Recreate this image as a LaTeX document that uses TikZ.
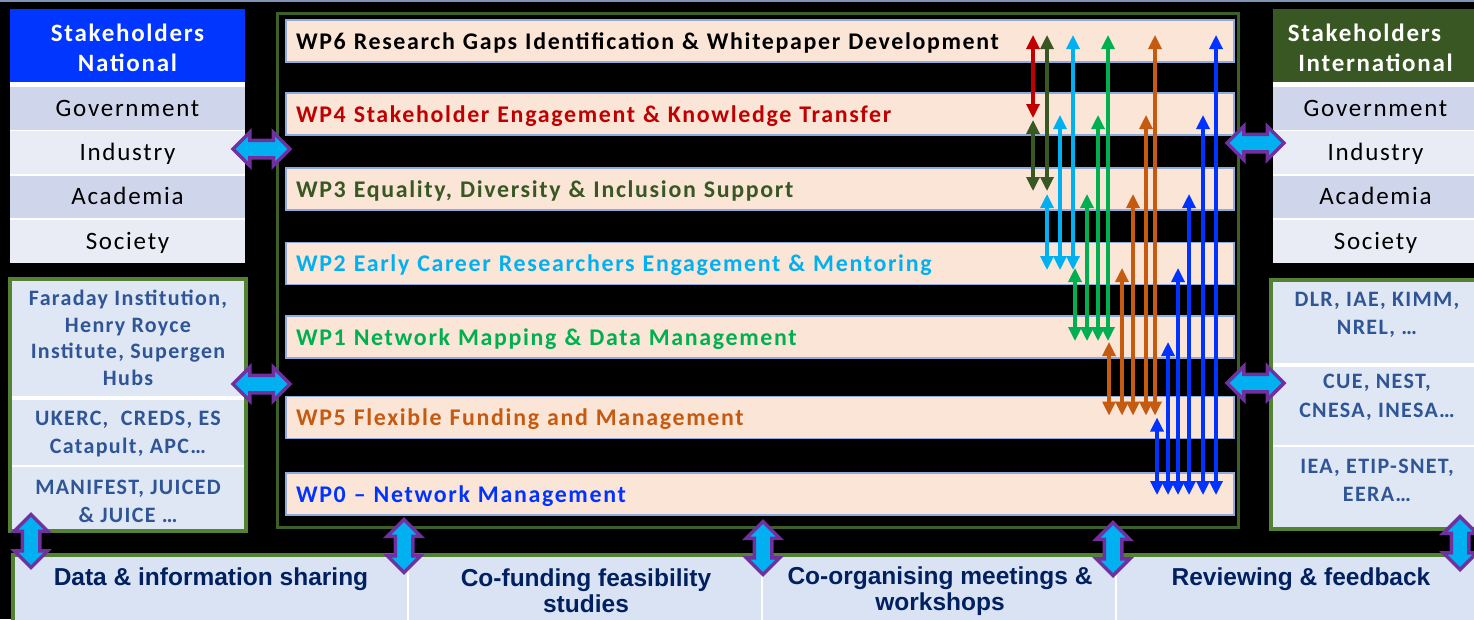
\documentclass[tikz,border=0pt]{standalone}
\usepackage{fontspec}
\setmainfont{Carlito}
\newfontfamily\calsp[LetterSpace=7]{Carlito}
\newfontfamily\calbx[LetterSpace=6]{Carlito}
\newfontfamily\arl{Liberation Sans}
\usetikzlibrary{shapes.arrows,arrows.meta}
\definecolor{natblue}{HTML}{0036FF}
\definecolor{intgreen}{HTML}{385723}
\definecolor{rowdark}{HTML}{CFD5EA}
\definecolor{rowlight}{HTML}{E9EBF5}
\definecolor{boxfill}{HTML}{DEE7F3}
\definecolor{boxgreen}{HTML}{548235}
\definecolor{boxtext}{HTML}{2F5597}
\definecolor{framegreen}{HTML}{3F5F28}
\definecolor{barfill}{HTML}{FBE5D6}
\definecolor{baredge}{HTML}{8FAADC}
\definecolor{bandfill}{HTML}{DAE3F3}
\definecolor{bandtext}{HTML}{002060}
\definecolor{arrpurple}{HTML}{7030A0}
\definecolor{arrcyan}{HTML}{00B0F0}
\definecolor{cred}{HTML}{C00000}
\definecolor{cdkgreen}{HTML}{385723}
\definecolor{ccyan}{HTML}{00B0F0}
\definecolor{cgreen}{HTML}{00B050}
\definecolor{corange}{HTML}{C55A11}
\definecolor{cblue}{HTML}{0033FF}
\definecolor{toplinec}{HTML}{7F93B5}
\newcommand\wplink[4]{\draw[lnk,draw=#1] (#3 -| #2,0) -- (#4 -| #2,0);}
\begin{document}
\begin{tikzpicture}[x=1pt,y=-1pt,
  hdr/.style={anchor=north west, minimum width=235pt, minimum height=73pt, inner sep=0pt, outer sep=0pt},
  hdrtxt/.style={inner sep=0pt, text=white, align=center, font=\calsp\bfseries\fontsize{25}{30}\selectfont},
  tabrow/.style={anchor=north west, minimum width=235pt, minimum height=42.5pt, inner sep=0pt, outer sep=0pt, text height=16pt, text depth=0pt, text=black, font=\calsp\fontsize{25}{30}\selectfont},
  orgbox/.style={anchor=north west, draw=boxgreen, fill=boxfill, line width=4pt, inner sep=0pt, outer sep=0pt},
  orgtxt/.style={text=boxtext, align=center, inner sep=0pt, font=\calbx\bfseries\fontsize{22}{28.5}\selectfont},
  wpframe/.style={anchor=north west, draw=framegreen, line width=3pt, inner sep=0pt, outer sep=0pt},
  wpbar/.style={anchor=north west, draw=baredge, line width=1.3pt, fill=barfill, minimum width=948pt, minimum height=42pt, inner xsep=10pt, inner ysep=0pt, outer sep=0pt, text width=928pt, text height=16pt, text depth=0pt, align=left, font=\calsp\bfseries\fontsize{23.9}{27}\selectfont},
  bandtxt/.style={text=bandtext, align=center, inner sep=0pt, font=\arl\bfseries\fontsize{24.5}{26}\selectfont},
  blk/.style={double arrow, draw=arrpurple, fill=arrcyan, line width=3.5pt, inner xsep=0pt, inner ysep=7pt, outer sep=0pt, double arrow head extend=8pt, double arrow head indent=0pt, minimum height=#1},
  lnk/.style={line width=3.2pt, {Triangle[width=13pt,length=14pt]}-{Triangle[width=13pt,length=14pt]}}
]
\useasboundingbox (0,0) rectangle (1474,619);
\fill[black] (0,0) rectangle (1474,619);
\draw[toplinec, line width=2.5pt] (0,1.2) -- (1474,1.2);

% national stakeholders table
\fill[white] (10,82) rectangle (245,263);
\node[hdr, fill=natblue] (nathdr) at (10,9) {};
\node[hdrtxt] (nathdrtxt) at ([yshift=-2.5pt]nathdr.center) {Stakeholders\\National};
\node[tabrow, fill=rowdark] (natgov) at (10,87) {Government};
\node[tabrow, fill=rowlight] (natind) at (10,131) {Industry};
\node[tabrow, fill=rowdark] (natacad) at (10,175.5) {Academia};
\node[tabrow, fill=rowlight] (natsoc) at (10,220) {Society};

% international stakeholders table
\fill[white] (1273,82) rectangle (1474,263);
\node[hdr, fill=intgreen, minimum width=205pt] (inthdr) at (1273,9) {};
\node[hdrtxt] (inthdrtxt) at ([yshift=-2.5pt]inthdr.center) {Stakeholders\hspace*{22pt}\\International};
\node[tabrow, fill=rowdark, minimum width=205pt] (intgov) at (1273,87) {Government};
\node[tabrow, fill=rowlight, minimum width=205pt] (intind) at (1273,131) {Industry};
\node[tabrow, fill=rowdark, minimum width=205pt] (intacad) at (1273,175.5) {Academia};
\node[tabrow, fill=rowlight, minimum width=205pt] (intsoc) at (1273,220) {Society};

% national organisations
\node[orgbox, minimum width=235.5pt, minimum height=252.5pt] (natorg) at (10,278.5) {};
\draw[white, line width=4pt] (12,398) -- (243.5,398);
\draw[white, line width=2pt] (12,466) -- (243.5,466);
\node[orgtxt, font=\calbx\bfseries\fontsize{22}{26.5}\selectfont] (faraday) at (128,338) {Faraday Institution,\\Henry Royce\\Institute, Supergen\\Hubs};
\node[orgtxt] (ukerc) at (128,434) {UKERC,\ \ CREDS, ES\\Catapult, APC…};
\node[orgtxt] (manifest) at (128,501.5) {MANIFEST, JUICED\\\& JUICE …};

% international organisations
\node[orgbox, minimum width=215pt, minimum height=249pt] (intorg) at (1271,280) {};
\draw[white, line width=4pt] (1273,364.5) -- (1480,364.5);
\draw[white, line width=2pt] (1273,446) -- (1480,446);
\node[orgtxt] (dlr) at (1377,315) {DLR, IAE, KIMM,\\NREL, …};
\node[orgtxt] (cue) at (1377,397.5) {CUE, NEST,\\CNESA, INESA…};
\node[orgtxt] (iea) at (1377,480.5) {IEA, ETIP-SNET,\\EERA…};

% main frame with work packages
\node[wpframe, minimum width=961pt, minimum height=514pt] (wpfr) at (277,13) {};
\node[wpbar, text=black] (wp6) at (286,20) {WP6 Research Gaps Identification \& Whitepaper Development};
\node[wpbar, text=cred] (wp4) at (286,93) {WP4 Stakeholder Engagement \& Knowledge Transfer};
\node[wpbar, text=cdkgreen] (wp3) at (286,168) {WP3 Equality, Diversity \& Inclusion Support};
\node[wpbar, text=ccyan] (wp2) at (286,242.5) {WP2 Early Career Researchers Engagement \& Mentoring};
\node[wpbar, text=cgreen] (wp1) at (286,316) {WP1 Network Mapping \& Data Management};
\node[wpbar, text=corange] (wp5) at (286,396.5) {WP5 Flexible Funding and Management};
\node[wpbar, text=cblue] (wp0) at (286,473) {WP0 – Network Management};

% bottom band
\fill[bandfill] (13,555) rectangle (1480,625);
\draw[boxgreen, line width=3.5pt] (13,625) -- (13,555) -- (1480,555);
\draw[white, line width=1.5pt] (408,557) -- (408,622);
\draw[white, line width=1.5pt] (762,557) -- (762,622);
\draw[white, line width=1.5pt] (1116,557) -- (1116,622);
\node[bandtxt] (share) at (211,579) {Data \& information sharing};
\node[bandtxt] (cofund) at (586,591) {Co-funding feasibility\\studies};
\node[bandtxt] (coorg) at (940,591) {Co-organising meetings \&\\workshops};
\node[bandtxt] (review) at (1301,579) {Reviewing \& feedback};

% block double arrows
\node[blk=57pt] (hA) at (261.5,149) {};
\node[blk=57pt] (hB) at (261.5,384) {};
\node[blk=57pt] (hC) at (1255.5,143) {};
\node[blk=57pt] (hD) at (1255.5,383) {};
\node[blk=53pt, rotate=90] (vA) at (31,541) {};
\node[blk=53pt, rotate=90] (vB) at (404,546) {};
\node[blk=53pt, rotate=90] (vC) at (763,548) {};
\node[blk=53pt, rotate=90] (vD) at (1113,549) {};
\node[blk=53pt, rotate=90] (vE) at (1460,543) {};

% arrow end points on the work package bars
\coordinate (u6) at ([yshift=6pt]wp6.center);
\coordinate (u4) at ([yshift=-1pt]wp4.center);
\coordinate (u4b) at ([yshift=-6pt]wp4.center);
\coordinate (u3) at ([yshift=-5pt]wp3.center);
\coordinate (u2) at ([yshift=-4.5pt]wp2.center);
\coordinate (u1) at ([yshift=-5pt]wp1.center);
\coordinate (u5) at ([yshift=0pt]wp5.center);
\coordinate (d4) at ([yshift=-4pt]wp4.center);
\coordinate (d3) at ([yshift=-2pt]wp3.center);
\coordinate (d2) at ([yshift=-6.5pt]wp2.center);
\coordinate (d1) at ([yshift=-4pt]wp1.center);
\coordinate (d5) at ([yshift=2pt]wp5.center);
\coordinate (d0) at ([yshift=-1pt]wp0.center);

% work package links
\wplink{cred}{1033}{u6}{d4}
\wplink{cdkgreen}{1047}{u6}{d3}
\wplink{cdkgreen}{1033}{u4b}{d3}
\wplink{ccyan}{1073}{u6}{d2}
\wplink{ccyan}{1060}{u4}{d2}
\wplink{ccyan}{1047}{u3}{d2}
\wplink{cgreen}{1108}{u6}{d1}
\wplink{cgreen}{1098}{u4}{d1}
\wplink{cgreen}{1087}{u3}{d1}
\wplink{cgreen}{1075}{u2}{d1}
\wplink{corange}{1155}{u6}{d5}
\wplink{corange}{1146}{u4}{d5}
\wplink{corange}{1133}{u3}{d5}
\wplink{corange}{1122}{u2}{d5}
\wplink{corange}{1109}{u1}{d5}
\wplink{cblue}{1216}{u6}{d0}
\wplink{cblue}{1203}{u4}{d0}
\wplink{cblue}{1189}{u3}{d0}
\wplink{cblue}{1178}{u2}{d0}
\wplink{cblue}{1168}{u1}{d0}
\wplink{cblue}{1157}{u5}{d0}
\end{tikzpicture}
\end{document}
